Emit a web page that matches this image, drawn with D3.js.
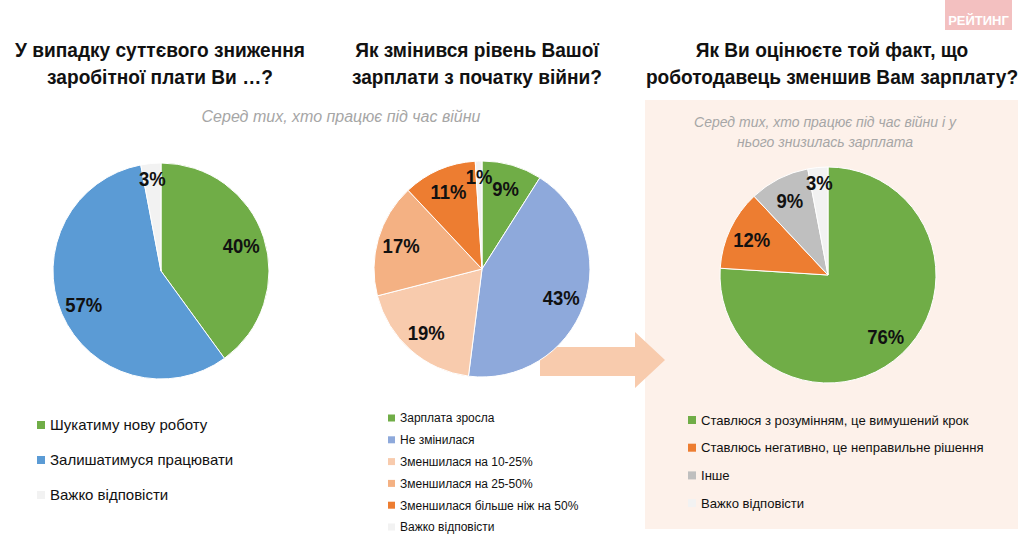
<!DOCTYPE html>
<html><head><meta charset="utf-8">
<script src="https://cdn.jsdelivr.net/npm/d3@7"></script>
<style>body{margin:0;background:#fff}svg{display:block}</style>
</head><body><svg id="c" width="1024" height="544"></svg>
<script>
// ---- data ----
const titles = [
  ["У випадку суттєвого зниження", "заробітної плати Ви …?"],
  ["Як змінився рівень Вашої", "зарплати з початку війни?"],
  ["Як Ви оцінюєте той факт, що", "роботодавець зменшив Вам зарплату?"]
];
const subtitle1 = ["Серед тих, хто працює під час війни"];
const subtitle3 = ["Серед тих, хто працює під час війни і у", "нього знизилась зарплата"];

const cats1 = ["Шукатиму нову роботу", "Залишатимуся працювати", "Важко відповісти"];
const vals1 = [40, 57, 3];
const cols1 = ["#70AD47", "#5B9BD5", "#F2F2F2"];

const cats2 = ["Зарплата зросла", "Не змінилася", "Зменшилася на 10-25%", "Зменшилася на 25-50%", "Зменшилася більше ніж на 50%", "Важко відповісти"];
const vals2 = [9, 43, 19, 17, 11, 1];
const cols2 = ["#70AD47", "#8EA9DB", "#F8CBAD", "#F4B183", "#ED7D31", "#F2F2F2"];

const cats3 = ["Ставлюся з розумінням, це вимушений крок", "Ставлюсь негативно, це неправильне рішення", "Інше", "Важко відповісти"];
const vals3 = [76, 12, 9, 3];
const cols3 = ["#70AD47", "#ED7D31", "#BFBFBF", "#F2F2F2"];

const svg = d3.select("#c");
const sans = "'Liberation Sans', Arial, sans-serif";

// peach panel
svg.append("rect").attr("x", 645).attr("y", 100).attr("width", 373).attr("height", 429).attr("fill", "#FDF1EA");

// logo
svg.append("rect").attr("x", 945).attr("y", 0).attr("width", 67).attr("height", 30).attr("fill", "#F3C0C0");
svg.append("text").attr("x", 978.5).attr("y", 25).attr("text-anchor", "middle")
  .attr("font-family", sans).attr("font-weight", "bold").attr("font-size", 13).attr("fill", "#fff").text("РЕЙТИНГ");

// arrow
const arrowPts = [[540, 347], [635, 347], [635, 332], [665, 360], [635, 388], [635, 376], [540, 376]];
svg.append("path").attr("d", d3.line()(arrowPts)).attr("fill", "#F8CBAD");

// titles (condensed look via horizontal scale)
const titleX = [160, 477, 832];
titles.forEach((t, i) => {
  const tx = svg.append("text").attr("transform", `translate(${titleX[i]},0) scale(0.91,1)`)
    .attr("text-anchor", "middle").attr("font-family", sans)
    .attr("font-weight", "bold").attr("font-size", 21).attr("fill", "#111");
  t.forEach((line, j) => tx.append("tspan").attr("x", 0).attr("y", 57 + j * 27).text(line));
});

// subtitles
function subtitle(lines, x, y0, fs) {
  const tx = svg.append("text").attr("text-anchor", "middle").attr("font-family", sans)
    .attr("font-style", "italic").attr("font-size", fs).attr("fill", "#A6A6A6");
  lines.forEach((l, j) => tx.append("tspan").attr("x", x).attr("y", y0 + j * 20).text(l));
}
subtitle(subtitle1, 341, 122, 16);
subtitle(subtitle3, 825, 127, 14);

// pies
function drawPie(vals, cols, cx, cy, r) {
  const pie = d3.pie().sort(null).value(d => d)(vals);
  const arc = d3.arc().innerRadius(0).outerRadius(r);
  const g = svg.append("g").attr("transform", `translate(${cx},${cy})`);
  g.selectAll("path").data(pie).join("path").attr("d", arc)
    .attr("fill", (d, i) => cols[i]).attr("stroke", "#fff").attr("stroke-width", 1);
  g.selectAll("text").data(pie).join("text")
    .attr("transform", d => {
      const k = d.value <= 3 ? 0.86 : 0.78;
      const a = (d.startAngle + d.endAngle) / 2;
      return `translate(${Math.sin(a) * r * k},${-Math.cos(a) * r * k}) scale(0.88,1)`;
    })
    .attr("text-anchor", "middle").attr("dy", "0.36em")
    .attr("font-family", sans).attr("font-weight", "bold").attr("font-size", 21).attr("fill", "#111")
    .text(d => d.value + "%");
}
drawPie(vals1, cols1, 161, 271, 108);
drawPie(vals2, cols2, 482, 269, 108);
drawPie(vals3, cols3, 828, 275, 108);

// legends
function legend(cats, cols, x, y0, step, fs, sq) {
  const g = svg.append("g");
  cats.forEach((c, i) => {
    const y = y0 + i * step;
    g.append("rect").attr("x", x).attr("y", y - sq / 2).attr("width", sq).attr("height", sq).attr("fill", cols[i]);
    g.append("text").attr("x", x + sq + 5).attr("y", y).attr("dy", "0.36em")
      .attr("font-family", sans).attr("font-size", fs).attr("fill", "#111").text(c);
  });
}
legend(cats1, cols1, 37, 425, 35, 15, 8);
legend(cats2, cols2, 388, 418, 21.8, 12, 7);
legend(cats3, cols3, 688, 420, 27.7, 13.1, 8);
</script></body></html>
